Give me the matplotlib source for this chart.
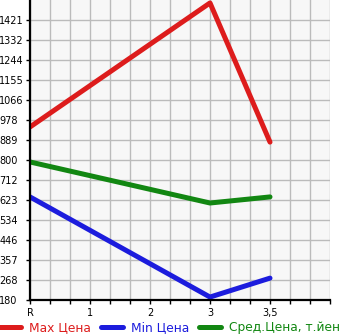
import numpy as np
import matplotlib.pyplot as plt
from matplotlib.ticker import FixedLocator

# data
categories = ['R', '1', '2', '3', '3,5']
cat_pos = [0, 1, 2, 3, 4]
point_idx = [0, 3, 4]          # positions that carry values (R, 3, 3,5)
max_price = [947, 1497, 880]
min_price = [637, 193, 277]
avg_price = [792, 610, 637]
labels = ['Max Цена', 'Min Цена', 'Сред.Цена, т.йен']
colors = ['#dd1c1c', '#1c1cdd', '#128712']

y_min = 180
y_step = 266 / 3
y_ticks = [y_min + k * y_step for k in range(15)]
y_ticklabels = [str(int(v + 1e-6)) for v in y_ticks]

fig = plt.figure(figsize=(3.45, 3.35), dpi=100)
ax = fig.add_axes([30 / 345, 35 / 335, 300 / 345, 300 / 335])
ax.set_facecolor('#f7f7f7')

for vals, col, lab in zip([max_price, min_price, avg_price], colors, labels):
    ax.plot(point_idx, vals, color=col, lw=3.6, solid_capstyle='round', label=lab)

ax.set_xlim(0, 5)
ax.set_ylim(y_min, y_min + 15 * y_step)

ax.xaxis.set_major_locator(FixedLocator(cat_pos))
ax.set_xticklabels(categories)
ax.xaxis.set_minor_locator(FixedLocator(np.arange(0, 5.01, 1 / 3)))
ax.set_yticks(y_ticks)
ax.set_yticklabels(y_ticklabels)

ax.grid(True, which='both', color='#bbbbbb', lw=1)
ax.set_axisbelow(True)

for s in ['top', 'right']:
    ax.spines[s].set_visible(False)
for s in ['left', 'bottom']:
    ax.spines[s].set_linewidth(1.6)
    ax.spines[s].set_color('black')

ax.tick_params(axis='x', which='both', length=3, width=1, labelsize=7, pad=3)
ax.tick_params(axis='y', which='major', length=3, width=1, labelsize=7, pad=19)
for t in ax.get_yticklabels():
    t.set_horizontalalignment('left')
    t.set_verticalalignment('center_baseline')

fig.legend(loc='lower left', bbox_to_anchor=(-0.005, 0.0), ncol=3, frameon=False,
           fontsize=8.8, handlelength=1.8, handletextpad=0.65, columnspacing=0.8,
           labelcolor='linecolor', borderaxespad=0, borderpad=0.1)

fig.savefig('out.png', dpi=100)
